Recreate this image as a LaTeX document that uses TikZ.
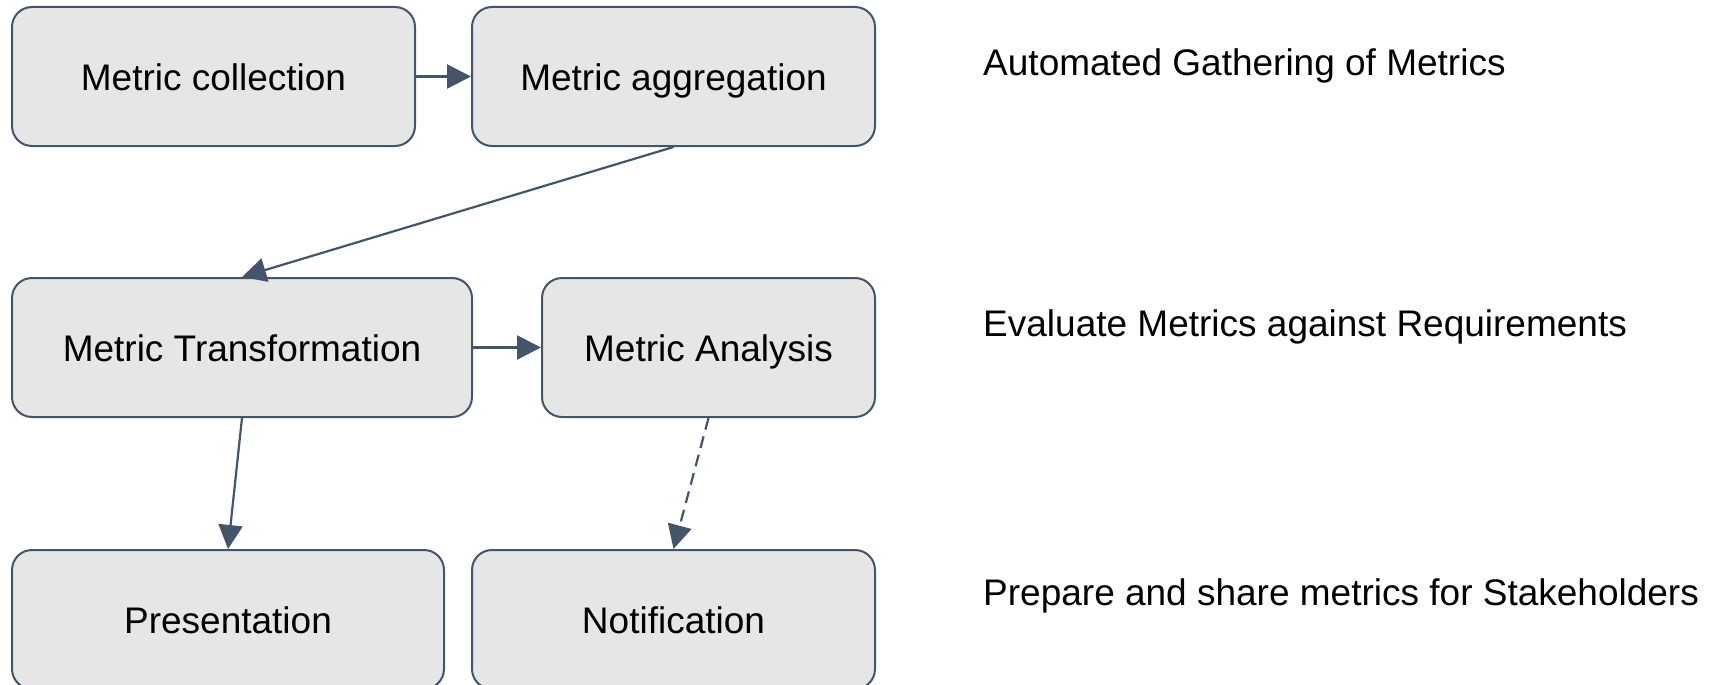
\documentclass[tikz,border=0pt]{standalone}
\usepackage{fontspec}
\setmainfont{Liberation Sans}
\usetikzlibrary{arrows.meta}
\definecolor{slateline}{HTML}{44546A}
\definecolor{boxfill}{HTML}{E6E6E6}
\begin{document}
\begin{tikzpicture}[x=1pt,y=-1pt,
  stage/.style={draw=slateline, line width=2pt, fill=boxfill, rounded corners=20pt,
    inner sep=0pt, minimum height=139pt, font=\fontsize{37}{44}\selectfont,
    text height=27pt, text depth=0pt},
  flow/.style={draw=slateline, line width=2.2pt, -{Triangle[length=24pt,width=24pt]}},
  note/.style={anchor=base west, inner sep=0pt, font=\fontsize{37}{44}\selectfont}
]
\useasboundingbox (0,0) rectangle (1718,685);
\clip (0,0) rectangle (1718,685);

% stage boxes
\node[stage, minimum width=403pt] (collect)   at (213.5,76.5)  {Metric collection};
\node[stage, minimum width=403pt] (aggregate) at (673.5,76.5)  {Metric aggregation};
\node[stage, minimum width=460pt] (transform) at (242,347.5)   {Metric Transformation};
\node[stage, minimum width=333pt] (analyse)   at (708.5,347.5) {Metric Analysis};
\node[stage, minimum width=432pt] (present)   at (228,619.5)   {Presentation};
\node[stage, minimum width=403pt] (notify)    at (673.5,619.5) {Notification};

% phase descriptions
\node[note] (phase1) at (983,75.5)  {Automated Gathering of Metrics};
\node[note] (phase2) at (983,336.5) {Evaluate Metrics against Requirements};
\node[note] (phase3) at (983,605)   {Prepare and share metrics for Stakeholders};

% connectors
\draw[flow] (collect.east) -- (aggregate.west);
\draw[flow] (aggregate.south) -- (transform.north);
\draw[flow] (transform.east) -- (analyse.west);
\draw[flow] (transform.south) -- (present.north);
\draw[flow, dash pattern=on 12pt off 7pt] (analyse.south) -- (notify.north);
\end{tikzpicture}
\end{document}
